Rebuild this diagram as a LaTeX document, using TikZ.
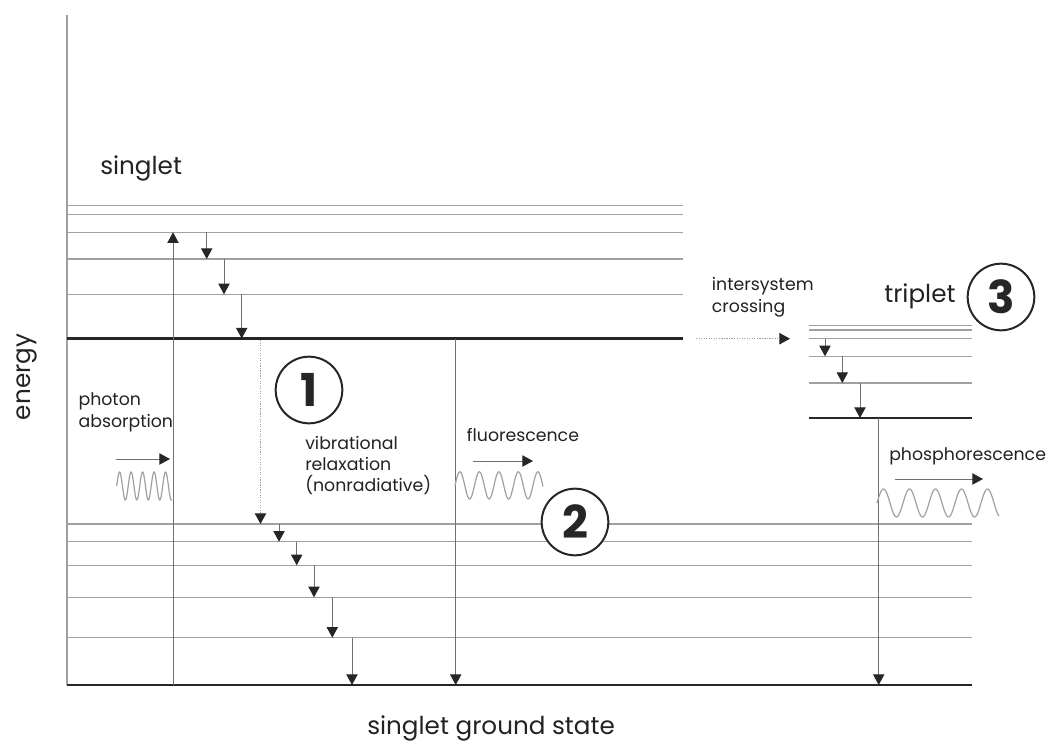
\documentclass[tikz,border=0pt]{standalone}
\usepackage{fontspec}
\setmainfont{Poppins}
\usetikzlibrary{arrows.meta}
\definecolor{txt}{HTML}{222222}
\definecolor{levgray}{HTML}{A0A0A0}
\definecolor{shaft}{HTML}{707070}
\definecolor{dark}{HTML}{262626}
\begin{document}
\begin{tikzpicture}[x=0.75pt,y=-0.75pt,
  lvl/.style={draw=levgray, line width=0.9pt},
  thick level/.style={draw=dark, line width=2.2pt},
  trans/.style={draw=shaft, line width=0.75pt, -{Triangle[width=8.5pt,length=8pt,color=dark]}},
  dottrans/.style={draw=levgray, line width=0.9pt, densely dotted, -{Triangle[width=8.5pt,length=8pt,color=dark]}},
  wave/.style={draw=levgray, line width=0.9pt},
  small/.style={inner sep=0pt, anchor=base west, text=txt, font=\fontsize{13}{16}\selectfont},
  big/.style={inner sep=0pt, anchor=base west, text=txt, font=\fontsize{18.5}{22}\selectfont},
  numcirc/.style={circle, draw=dark, line width=1.5pt, fill=white, minimum size=50pt, inner sep=0pt, text=dark, font=\fontsize{34}{34}\selectfont\bfseries}]
\useasboundingbox (0,0) rectangle (1051,742);
% axis
\draw[draw=levgray, line width=0.9pt] (67,15) -- (67,685);
% singlet excited levels
\foreach \y in {205.7,214.3,232.3,259,294.3} \draw[lvl] (67,\y) -- (683,\y);
\draw[thick level] (67,338.5) -- (683,338.5);
% ground state levels
\foreach \y in {524,541.7,565.3,597.3,637.7} \draw[lvl] (67,\y) -- (972,\y);
\draw[thick level] (67,685) -- (972,685);
% triplet levels
\foreach \y in {325.7,330,338.7,356.3,383} \draw[lvl] (809,\y) -- (972,\y);
\draw[thick level] (809,418) -- (972,418);
% absorption
\draw[trans] (173,685) -- (173,232.3);
% vibrational relaxation in singlet
\draw[trans] (206.7,232.3) -- (206.7,259);
\draw[trans] (224,259) -- (224,294.3);
\draw[trans] (241.7,294.3) -- (241.7,338.5);
% nonradiative dotted
\draw[dottrans] (260.5,340) -- (260.5,524);
% relaxation in ground
\draw[trans] (279,524) -- (279,541.7);
\draw[trans] (296.7,541.7) -- (296.7,565.3);
\draw[trans] (314,565.3) -- (314,597.3);
\draw[trans] (332.3,597.3) -- (332.3,637.7);
\draw[trans] (352,637.7) -- (352,685);
% fluorescence
\draw[trans] (455.7,338.5) -- (455.7,685);
% ISC
\draw[dottrans] (696,338.7) -- (790,338.7);
% triplet relaxation
\draw[trans] (825,338.7) -- (825,356.3);
\draw[trans] (842.3,356.3) -- (842.3,383);
\draw[trans] (860,383) -- (860,418);
% phosphorescence
\draw[trans] (878.7,418) -- (878.7,685);
% photon arrows
\draw[trans] (116,459) -- (170,459);
\draw[trans] (473,461) -- (533,461);
\draw[trans] (895,479) -- (983,479);
% waves
\draw[wave] plot[domain=116.7:171.7, samples=140] (\x, {486 - 14*sin(31.3*(\x-116.7))});
\draw[wave] plot[domain=455:543, samples=150] (\x, {485.4 - 13.6*sin(18.4615*(\x-455))});
\draw[wave] plot[domain=877:999, samples=180] (\x, {503 - 14*sin(13.8462*(\x-877))});
% circles
\node[numcirc] (c1) at (309,390) {1};
\node[numcirc] (c2) at (575,522) {2};
\node[numcirc] (c3) at (1001,297) {3};
% texts
\node[big] (singlet) at (100,175) {singlet};
\node[big] (triplet) at (884,302) {triplet};
\node[big] (ground) at (367,734) {singlet ground state};
\node[inner sep=0pt, text=txt, font=\fontsize{18.5}{22}\selectfont, rotate=90] (energy) at (27,377) {energy};
\node[small] (isc1) at (711.7,290) {intersystem};
\node[small] (isc2) at (711.7,312) {crossing};
\node[small] (ph1) at (78.3,405) {photon};
\node[small] (ph2) at (78.3,427) {absorption};
\node[small] (vr1) at (305,449) {vibrational};
\node[small] (vr2) at (305,470) {relaxation};
\node[small] (vr3) at (305,491) {(nonradiative)};
\node[small] (fl) at (466.7,441.7) {fluorescence};
\node[small] (phos) at (889,460) {phosphorescence};
\end{tikzpicture}
\end{document}
